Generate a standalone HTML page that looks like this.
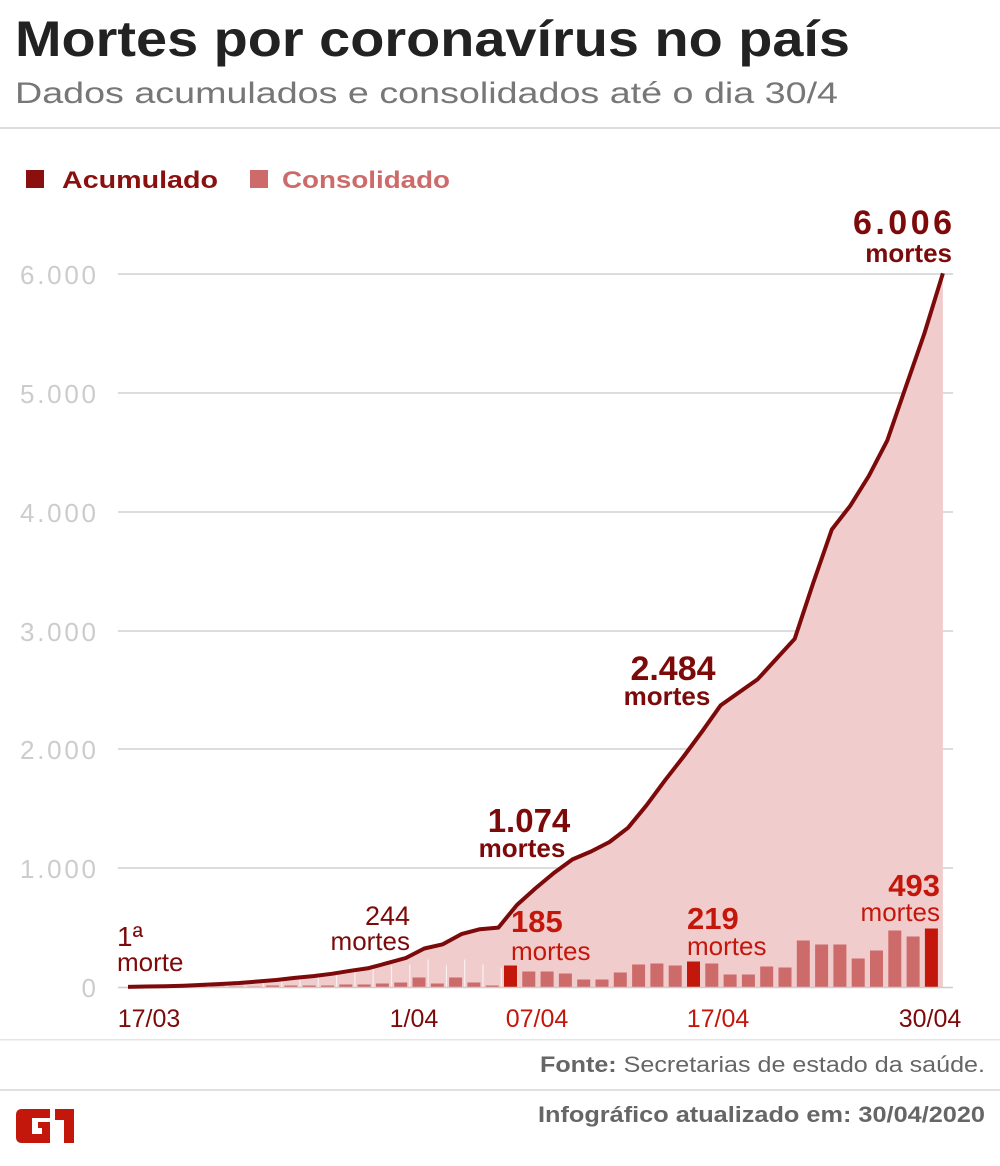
<!DOCTYPE html>
<html><head><meta charset="utf-8"><style>
html,body{margin:0;padding:0;background:#fff}
svg{display:block}
text{font-family:"Liberation Sans",sans-serif}
</style></head><body>
<svg width="1000" height="1166" viewBox="0 0 1000 1166" xmlns="http://www.w3.org/2000/svg">
<text x="15" y="56" font-size="50" font-weight="bold" fill="#222" textLength="835" lengthAdjust="spacingAndGlyphs">Mortes por coronavírus no país</text>
<text x="15" y="103" font-size="30" fill="#777" textLength="823" lengthAdjust="spacingAndGlyphs">Dados acumulados e consolidados até o dia 30/4</text>
<rect x="0" y="127" width="1000" height="2" fill="#ddd"/>
<rect x="26" y="170" width="18" height="18" fill="#8a0f0f"/>
<text x="62" y="188" font-size="24" font-weight="bold" fill="#8a0f0f" textLength="156" lengthAdjust="spacingAndGlyphs">Acumulado</text>
<rect x="250" y="170" width="18" height="18" fill="#cd6a6a"/>
<text x="282" y="188" font-size="24" font-weight="bold" fill="#cd6a6a" textLength="168" lengthAdjust="spacingAndGlyphs">Consolidado</text>
<g fill="#ccc" font-size="26" text-anchor="end">
<text x="96" y="284" textLength="76">6.000</text><text x="96" y="403" textLength="76">5.000</text><text x="96" y="522" textLength="76">4.000</text>
<text x="96" y="641" textLength="76">3.000</text><text x="96" y="759" textLength="76">2.000</text><text x="96" y="878" textLength="76">1.000</text><text x="96" y="997">0</text>
</g>
<g stroke="#d0d0d0" stroke-width="1.5">
<line x1="118" y1="274" x2="953" y2="274"/><line x1="118" y1="393" x2="953" y2="393"/><line x1="118" y1="512" x2="953" y2="512"/>
<line x1="118" y1="631" x2="953" y2="631"/><line x1="118" y1="749" x2="953" y2="749"/><line x1="118" y1="868" x2="953" y2="868"/>
</g>
<polygon id="area" fill="#f0cccc" points=""/>
<g id="bars"></g>
<line x1="118" y1="987.5" x2="953" y2="987.5" stroke="#ccc" stroke-width="1.5"/>
<polyline id="line" fill="none" stroke="#7d0a0a" stroke-width="4" stroke-linejoin="round" points=""/>
<g fill="#7d0a0a">
<text x="117" y="946" font-size="28">1ª</text>
<text x="117" y="971" font-size="26">morte</text>
<text x="410" y="925" font-size="27" text-anchor="end">244</text>
<text x="410" y="950" font-size="26" text-anchor="end">mortes</text>
<text x="529" y="832" font-size="33" font-weight="bold" text-anchor="middle">1.074</text>
<text x="522" y="857" font-size="26" font-weight="bold" text-anchor="middle">mortes</text>
<text x="673" y="680" font-size="34" font-weight="bold" text-anchor="middle">2.484</text>
<text x="667" y="705" font-size="26" font-weight="bold" text-anchor="middle">mortes</text>
<text x="952" y="234" font-size="34" font-weight="bold" text-anchor="end" textLength="99">6.006</text>
<text x="952" y="262" font-size="26" font-weight="bold" text-anchor="end">mortes</text>
</g>
<g fill="#c4170c">
<text x="511" y="932" font-size="31" font-weight="bold">185</text>
<text x="511" y="960" font-size="26">mortes</text>
<text x="687" y="929" font-size="31" font-weight="bold">219</text>
<text x="687" y="955" font-size="26">mortes</text>
<text x="940" y="896" font-size="31" font-weight="bold" text-anchor="end">493</text>
<text x="940" y="921" font-size="26" text-anchor="end">mortes</text>
</g>
<g font-size="25" text-anchor="middle">
<text x="149" y="1027" fill="#7d0a0a">17/03</text>
<text x="414" y="1027" fill="#7d0a0a">1/04</text>
<text x="537" y="1027" fill="#c4170c">07/04</text>
<text x="718" y="1027" fill="#c4170c">17/04</text>
<text x="930" y="1027" fill="#7d0a0a">30/04</text>
</g>
<rect x="0" y="1039" width="1000" height="1.5" fill="#e6e6e6"/>
<text x="985" y="1072" font-size="22" fill="#666" text-anchor="end" textLength="445" lengthAdjust="spacingAndGlyphs"><tspan font-weight="bold">Fonte:</tspan> Secretarias de estado da saúde.</text>
<rect x="0" y="1089" width="1000" height="2" fill="#e0e0e0"/>
<text x="985" y="1122" font-size="22" font-weight="bold" fill="#666" text-anchor="end" textLength="447" lengthAdjust="spacingAndGlyphs">Infográfico atualizado em: 30/04/2020</text>
<g fill="#c4170c">
<path d="M22 1109 H50 V1118 H32 V1134 H42 V1128 H38 V1122 H50 V1143 H22 Q16 1143 16 1137 V1115 Q16 1109 22 1109 Z"/>
<path d="M55 1109 H74 V1143 H64 V1120 H55 Z"/>
</g>
</svg>
<script>
var vals=[1,4,7,11,18,25,34,46,59,77,92,111,136,159,201,244,324,359,445,486,500,690,830,960,1074,1140,1220,1340,1530,1740,1940,2150,2370,2480,2590,2760,2930,3400,3850,4050,4300,4600,5050,5500,6006];
var pts=[];
for(var d=0;d<vals.length;d++){pts.push((128+18.52*d).toFixed(1)+","+(987-vals[d]*0.11883).toFixed(1));}
document.getElementById('line').setAttribute('points',pts.join(' '));
document.getElementById('area').setAttribute('points',pts.join(' ')+" 942.9,987 128,987");
var bh={4:1,5:1,6:1,7:1,8:2,9:2,10:2,11:2,12:3,13:3,14:4,15:5,16:10,17:4,18:10,19:5,20:2};
var late=[22,16,16,14,8,8,15,23,24,22,26,24,13,13,21,20,47,43,43,29,37,57,51,59];
for(var i=0;i<late.length;i++)bh[21+i]=late[i];
var hl={21:1,31:1,44:1};
var g=document.getElementById('bars'),s='';
for(var k in bh){var dd=+k,x=504+(dd-21)*18.3,h=bh[k];
if(dd<21)s+='<rect x="'+(x+15).toFixed(1)+'" y="'+(987.5-Math.max(h+18,0))+'" width="1.2" height="'+(h+18)+'" fill="#fff" opacity="0.7"/>';
s+='<rect x="'+x.toFixed(1)+'" y="'+(987.5-h)+'" width="13" height="'+h+'" fill="'+(hl[dd]?'#c4170c':'#cd6a6a')+'"/>';}
g.innerHTML=s;
</script>
</body></html>
